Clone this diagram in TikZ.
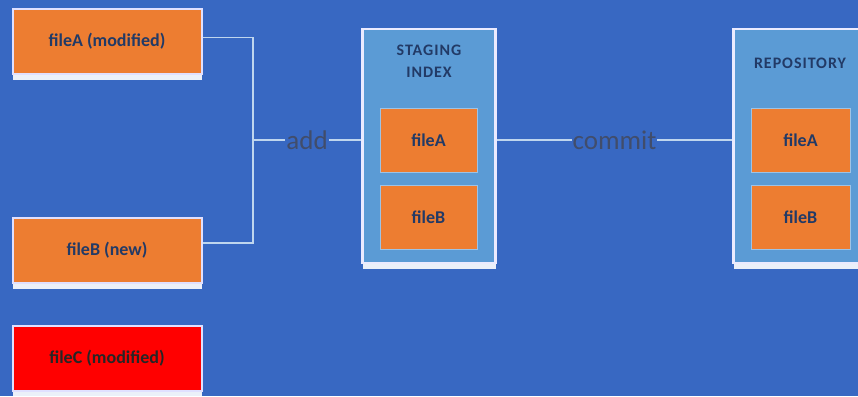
\documentclass[tikz,border=0pt]{standalone}
\usepackage{fontspec}
\setmainfont{Carlito}
\usetikzlibrary{shadows}
\definecolor{bg}{HTML}{3868C2}
\definecolor{lblue}{HTML}{5B9BD5}
\definecolor{orng}{HTML}{ED7D31}
\definecolor{navy}{HTML}{223A66}
\definecolor{conncol}{HTML}{BFD6EE}
\definecolor{lbltxt}{HTML}{414D6B}
\begin{document}
\begin{tikzpicture}[x=1pt,y=-1pt,
  whiteshadow/.style={drop shadow={shadow xshift=0pt,shadow yshift=-6pt,fill=white,opacity=0.9}},
  filebox/.style={fill=orng,draw=white!88!blue,line width=2pt,inner sep=0pt,
    minimum width=189pt,minimum height=65pt,whiteshadow,
    font=\fontsize{18}{21}\selectfont\bfseries,text=navy},
  redbox/.style={filebox,fill=red,text=black!85},
  panel/.style={fill=lblue,draw=white!92!blue,line width=2.5pt,inner sep=0pt,whiteshadow},
  innerbox/.style={fill=orng,draw=lblue!60!white,line width=1pt,inner sep=0pt,
    minimum width=97pt,minimum height=64pt,
    font=\fontsize{18}{21}\selectfont\bfseries,text=navy},
  title/.style={font=\fontsize{16}{22}\selectfont\bfseries\addfontfeature{LetterSpace=6},text=navy,align=center,inner sep=0pt},
  conn/.style={draw=conncol,line width=1.3pt},
  lbl/.style={font=\fontsize{27}{30}\selectfont,text=lbltxt,fill=bg,inner sep=1pt}]
\useasboundingbox (0,0) rectangle (858,396);
\clip (0,0) rectangle (858,396);
\fill[bg] (0,0) rectangle (858,396);

% working directory files
\node[filebox] (fA) at (107,41.5) {fileA (modified)};
\node[filebox] (fB) at (107,250) {fileB (new)};
\node[redbox]  (fC) at (107,358) {fileC (modified)};

% staging index panel
\node[panel,minimum width=133pt,minimum height=234pt] (stg) at (429,146) {};
\node[title] (stgT) at (429,61) {STAGING\\INDEX};
\node[innerbox] (sA) at (428.5,140) {fileA};
\node[innerbox] (sB) at (428.5,217.5) {fileB};

% repository panel
\node[panel,minimum width=140pt,minimum height=234pt] (repo) at (803.5,146) {};
\node[title] (repoT) at (800,63) {REPOSITORY};
\node[innerbox,minimum width=99pt] (rA) at (800.5,140.5) {fileA};
\node[innerbox,minimum width=99pt] (rB) at (800.5,217.5) {fileB};

% connectors
\coordinate (j) at (253,140);
\draw[conn] ([yshift=4pt]fA.east) -| (j) |- ([yshift=7pt]fB.east);
\draw[conn] (j) -- node[lbl] (addL) {add} (j -| stg.west);
\draw[conn] (stg.east |- sA.east) -- node[lbl] (comL) {commit} (repo.west |- sA.east);
\end{tikzpicture}
\end{document}
